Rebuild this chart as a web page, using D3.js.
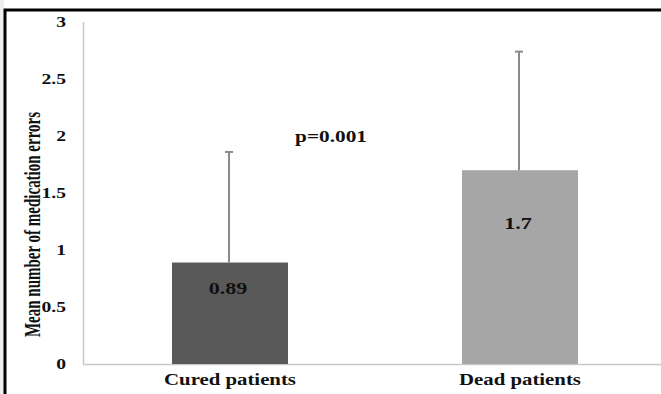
<!DOCTYPE html>
<html>
<head>
<meta charset="utf-8">
<script src="https://cdn.jsdelivr.net/npm/d3@7"></script>
<style>
  body { margin: 0; background: #fff; }
  svg { display: block; }
  text { font-family: "Liberation Serif", "Times New Roman", serif; font-weight: bold; fill: #111; }
</style>
</head>
<body>
<div id="chart"></div>
<script>
const categories = ["Cured patients", "Dead patients"];
const means = [0.89, 1.7];
const errors = [0.97, 1.04];
const yTicks = [0, 0.5, 1, 1.5, 2, 2.5, 3];
const pLabel = "p=0.001";
const barColors = ["#595959", "#a6a6a6"];

const W = 661, H = 394;
const svg = d3.select("#chart").append("svg")
    .attr("width", W)
    .attr("height", H);

// light strip + frame like the cropped figure
svg.append("rect").attr("x", 0).attr("y", 0).attr("width", 4).attr("height", H).attr("fill", "#eeeeee");
svg.append("rect")
    .attr("x", 5).attr("y", 10)
    .attr("width", W + 20).attr("height", H + 20)
    .attr("fill", "#fff")
    .attr("stroke", "#000").attr("stroke-width", 3);

const y = d3.scaleLinear().domain([0, 3]).range([364, 22]);
const x = d3.scaleBand().domain(categories).range([85, 665]).paddingInner(0.6).paddingOuter(0.3);

// axis lines
svg.append("line")
    .attr("x1", 83.5).attr("x2", 83.5)
    .attr("y1", y(3)).attr("y2", y(0))
    .attr("stroke", "#c8c8c8").attr("stroke-width", 1.5);
svg.append("line")
    .attr("x1", 83).attr("x2", W)
    .attr("y1", y(0) + 0.5).attr("y2", y(0) + 0.5)
    .attr("stroke", "#c8c8c8").attr("stroke-width", 1.5);

// tick labels (figure is stretched horizontally, so text is widened)
svg.selectAll(".tick-label")
    .data(yTicks)
    .enter().append("text")
    .attr("class", "tick-label")
    .attr("transform", d => `translate(66,${y(d)}) scale(1.4,1)`)
    .attr("text-anchor", "end")
    .attr("dy", "0.35em")
    .style("font-size", "14px")
    .text(d => d);

// y title
svg.append("text")
    .attr("transform", `translate(40,${(107 + 342) / 2}) rotate(-90) scale(1,1.55)`)
    .attr("text-anchor", "middle")
    .style("font-size", "15px")
    .text("Mean number of medication errors");

// bars
svg.selectAll(".bar")
    .data(categories)
    .enter().append("rect")
    .attr("class", "bar")
    .attr("x", d => x(d))
    .attr("width", x.bandwidth())
    .attr("y", (d, i) => y(means[i]))
    .attr("height", (d, i) => y(0) - y(means[i]))
    .attr("fill", (d, i) => barColors[i]);

// error bars (upper only)
const eb = svg.selectAll(".err")
    .data(categories)
    .enter().append("g")
    .attr("class", "err")
    .attr("stroke", "#8a8a8a")
    .attr("stroke-width", 2);
eb.append("line")
    .attr("x1", d => x(d) + x.bandwidth() / 2 - 1)
    .attr("x2", d => x(d) + x.bandwidth() / 2 - 1)
    .attr("y1", (d, i) => y(means[i]))
    .attr("y2", (d, i) => y(means[i] + errors[i]));
eb.append("line")
    .attr("x1", d => x(d) + x.bandwidth() / 2 - 5)
    .attr("x2", d => x(d) + x.bandwidth() / 2 + 3)
    .attr("y1", (d, i) => y(means[i] + errors[i]))
    .attr("y2", (d, i) => y(means[i] + errors[i]));

// value labels
svg.selectAll(".val")
    .data(categories)
    .enter().append("text")
    .attr("class", "val")
    .attr("transform", (d, i) => `translate(${x(d) + x.bandwidth() / 2 - 2},${y(means[i] * 0.7) + 1}) scale(1.3,1)`)
    .attr("text-anchor", "middle")
    .style("font-size", "17px")
    .text((d, i) => means[i]);

// category labels
svg.selectAll(".cat")
    .data(categories)
    .enter().append("text")
    .attr("class", "cat")
    .attr("transform", d => `translate(${x(d) + x.bandwidth() / 2},385) scale(1.3,1)`)
    .attr("text-anchor", "middle")
    .style("font-size", "16px")
    .text(d => d);

// p value
svg.append("text")
    .attr("transform", `translate(331,142) scale(1.33,1)`)
    .attr("text-anchor", "middle")
    .style("font-size", "16px")
    .text(pLabel);
</script>
</body>
</html>
